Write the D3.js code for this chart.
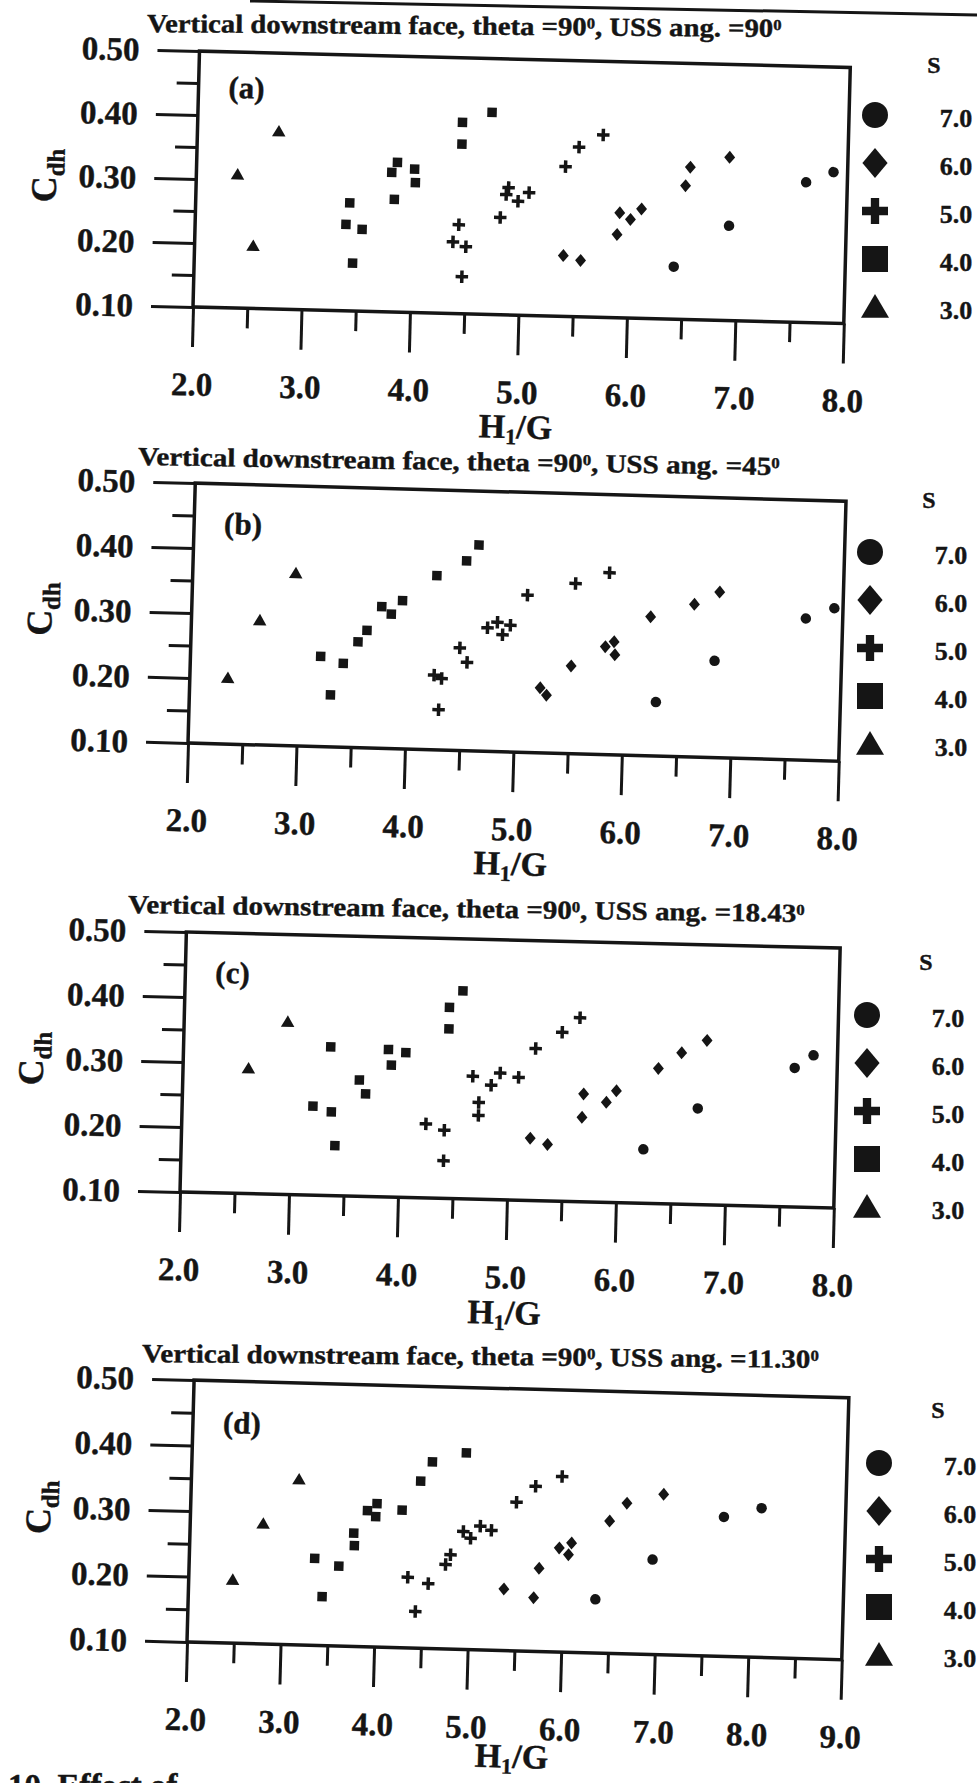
<!DOCTYPE html>
<html>
<head>
<meta charset="utf-8">
<script src="https://cdn.jsdelivr.net/npm/d3@7/dist/d3.min.js"></script>
<style>
  body { margin: 0; background: #fff; }
  svg text { font-family: "Liberation Serif", "Times New Roman", serif; font-weight: bold; fill: #151515; stroke: #151515; stroke-width: 0.4px; }
</style>
</head>
<body>
<div id="figure"></div>
<script>
// S values, legend order top to bottom
const sValues = ["7.0", "6.0", "5.0", "4.0", "3.0"];
const panelTags = ["(a)", "(b)", "(c)", "(d)"];
const ussAngles = ["90", "45", "18.43", "11.30"];

const yTicks = [0.10, 0.20, 0.30, 0.40, 0.50];
const yMinor = [0.15, 0.25, 0.35, 0.45];
const xTicks8 = [2, 3, 4, 5, 6, 7, 8];
const xMinor8 = [2.5, 3.5, 4.5, 5.5, 6.5, 7.5];
const xTicks9 = [2, 3, 4, 5, 6, 7, 8, 9];
const xMinor9 = [2.5, 3.5, 4.5, 5.5, 6.5, 7.5, 8.5];

// (a) USS ang. = 90
const a7 = [[6.42,0.182],[6.92,0.248],[7.62,0.319],[7.87,0.336]];
const a6 = [[5.40,0.195],[5.56,0.188],[5.89,0.230],[5.91,0.264],[6.01,0.254],[6.11,0.271],[6.51,0.309],[6.55,0.338],[6.91,0.355]];
const a5 = [[4.43,0.239],[4.38,0.212],[4.50,0.205],[4.47,0.158],[4.81,0.252],[4.88,0.299],[4.86,0.288],[4.97,0.278],[5.07,0.292],[5.40,0.334],[5.52,0.365],[5.74,0.385]];
const a4 = [[3.42,0.269],[3.39,0.235],[3.54,0.228],[3.46,0.175],[3.80,0.318],[3.85,0.334],[3.83,0.276],[4.01,0.324],[4.02,0.303],[4.44,0.399],[4.44,0.365],[4.71,0.416]];
const a3 = [[2.38,0.309],[2.75,0.378],[2.54,0.198]];

// (b) USS ang. = 45
const b7 = [[6.30,0.183],[6.83,0.249],[7.66,0.318],[7.92,0.335]];
const b6 = [[5.23,0.200],[5.29,0.189],[5.51,0.235],[5.82,0.266],[5.90,0.274],[5.91,0.254],[6.23,0.314],[6.63,0.335],[6.86,0.355]];
const b5 = [[4.25,0.215],[4.32,0.210],[4.48,0.258],[4.55,0.236],[4.30,0.162],[4.73,0.290],[4.82,0.299],[4.87,0.280],[4.94,0.295],[5.09,0.342],[5.53,0.362],[5.84,0.380]];
const b4 = [[3.20,0.239],[3.30,0.180],[3.41,0.229],[3.54,0.263],[3.62,0.281],[3.75,0.318],[3.84,0.307],[3.94,0.328],[4.25,0.368],[4.52,0.392],[4.63,0.417]];
const b3 = [[2.35,0.202],[2.63,0.292],[2.95,0.366]];

// (c) USS ang. = 18.43
const c7 = [[6.24,0.183],[6.73,0.248],[7.61,0.314],[7.78,0.334]];
const c6 = [[5.20,0.196],[5.36,0.187],[5.67,0.230],[5.68,0.266],[5.89,0.254],[5.98,0.272],[6.36,0.308],[6.57,0.333],[6.80,0.353]];
const c5 = [[4.24,0.214],[4.41,0.205],[4.41,0.158],[4.66,0.289],[4.72,0.249],[4.72,0.229],[4.83,0.276],[4.91,0.295],[5.08,0.289],[5.23,0.334],[5.47,0.360],[5.63,0.383]];
const c4 = [[3.20,0.237],[3.35,0.329],[3.37,0.229],[3.41,0.177],[3.62,0.279],[3.68,0.258],[3.88,0.327],[3.91,0.303],[4.04,0.323],[4.43,0.394],[4.43,0.361],[4.55,0.420]];
const c3 = [[2.60,0.293],[2.95,0.366]];

// (d) USS ang. = 11.30
const d7 = [[6.35,0.182],[6.95,0.245],[7.70,0.313],[8.10,0.328]];
const d6 = [[5.37,0.194],[5.69,0.182],[5.74,0.227],[5.95,0.259],[6.05,0.249],[6.08,0.267],[6.48,0.302],[6.66,0.330],[7.05,0.345]];
const d5 = [[4.34,0.208],[4.56,0.199],[4.43,0.156],[4.74,0.229],[4.79,0.244],[4.92,0.280],[5.00,0.270],[5.10,0.289],[5.22,0.283],[5.48,0.327],[5.68,0.352],[5.96,0.368]];
const d4 = [[3.34,0.233],[3.43,0.175],[3.60,0.222],[3.75,0.273],[3.76,0.254],[3.89,0.308],[3.99,0.319],[3.98,0.299],[4.26,0.310],[4.45,0.355],[4.57,0.385],[4.93,0.400]];
const d3pts = [[2.47,0.197],[2.78,0.284],[3.15,0.353]];

const panels = [
  { tag: panelTags[0], ang: ussAngles[0], xTicks: xTicks8, xMinor: xMinor8, series: [a7, a6, a5, a4, a3] },
  { tag: panelTags[1], ang: ussAngles[1], xTicks: xTicks8, xMinor: xMinor8, series: [b7, b6, b5, b4, b3] },
  { tag: panelTags[2], ang: ussAngles[2], xTicks: xTicks8, xMinor: xMinor8, series: [c7, c6, c5, c4, c3] },
  { tag: panelTags[3], ang: ussAngles[3], xTicks: xTicks9, xMinor: xMinor9, series: [d7, d6, d5, d4, d3pts] }
];

// where each (scanned, slightly turned) panel sits on the page
const frames = [
  { ox: 193, oy: 307,  rot: 1.45, w: 651, h: 256, tx: 147, ty: 32,   tw: 635, trot: 0.45, lx: 875, ly: 115,  sy: 65,   xly: 123 },
  { ox: 188, oy: 743,  rot: 1.6,  w: 651, h: 260, tx: 138, ty: 465,  tw: 642, trot: 0.9,  lx: 870, ly: 552,  sy: 500,  xly: 123 },
  { ox: 180, oy: 1192, rot: 1.4,  w: 654, h: 260, tx: 128, ty: 913,  tw: 677, trot: 0.76, lx: 867, ly: 1015, sy: 962,  xly: 124 },
  { ox: 187, oy: 1642, rot: 1.55, w: 655, h: 262, tx: 142, ty: 1362, tw: 677, trot: 0.5,  lx: 879, ly: 1463, sy: 1410, xly: 117 }
];

// marker shapes, size = span in px
const circleT = { draw(ctx, s) { ctx.moveTo(s / 2, 0); ctx.arc(0, 0, s / 2, 0, 2 * Math.PI); } };
const diamondT = { draw(ctx, s) { var h = s / 2, w = s * 0.42; ctx.moveTo(0, -h); ctx.lineTo(w, 0); ctx.lineTo(0, h); ctx.lineTo(-w, 0); ctx.closePath(); } };
const squareT = { draw(ctx, s) { ctx.rect(-s / 2, -s / 2, s, s); } };
const triangleT = { draw(ctx, s) { var h = s * 0.85; ctx.moveTo(0, -h * 0.55); ctx.lineTo(s / 2, h * 0.45); ctx.lineTo(-s / 2, h * 0.45); ctx.closePath(); } };
function plusT(k) {
  return { draw(ctx, s) {
    var r = s / 2, a = s * k / 2;
    ctx.moveTo(-a, -r); ctx.lineTo(a, -r); ctx.lineTo(a, -a); ctx.lineTo(r, -a); ctx.lineTo(r, a); ctx.lineTo(a, a);
    ctx.lineTo(a, r); ctx.lineTo(-a, r); ctx.lineTo(-a, a); ctx.lineTo(-r, a); ctx.lineTo(-r, -a); ctx.lineTo(-a, -a); ctx.closePath();
  } };
}
const shapes = [
  { plotType: circleT,   plot: 10.5, legType: circleT,   leg: 26 },
  { plotType: diamondT,  plot: 13,   legType: diamondT,  leg: 30 },
  { plotType: plusT(0.28), plot: 12.5, legType: plusT(0.32), leg: 26 },
  { plotType: squareT,   plot: 9.5,  legType: squareT,   leg: 26 },
  { plotType: triangleT, plot: 13.5, legType: triangleT, leg: 28 }
];
const ink = "#151515";

var svg = d3.select("#figure").append("svg")
    .attr("width", 977)
    .attr("height", 1783);

// scan edge at the top of the page
svg.append("line")
    .attr("x1", 250).attr("y1", 1).attr("x2", 977).attr("y2", 15)
    .attr("stroke", ink).attr("stroke-width", 3);

panels.forEach(function(p, i) {
  var f = frames[i];
  var x = d3.scaleLinear().domain([2, p.xTicks[p.xTicks.length - 1]]).range([0, f.w]);
  var y = d3.scaleLinear().domain([0.1, 0.5]).range([0, -f.h]);

  // title, stretched to the printed width
  var title = svg.append("text").attr("font-size", 26);
  title.append("tspan").text("Vertical downstream face, theta =90");
  title.append("tspan").attr("font-size", 15).attr("dy", -7).text("0");
  title.append("tspan").attr("dy", 7).text(", USS ang. =" + p.ang);
  title.append("tspan").attr("font-size", 15).attr("dy", -7).text("0");
  var len = title.node().getComputedTextLength();
  title.attr("transform", "translate(" + f.tx + "," + f.ty + ") rotate(" + f.trot + ") scale(" + (f.tw / len) + ",1)");

  var g = svg.append("g")
      .attr("transform", "translate(" + f.ox + "," + f.oy + ") rotate(" + f.rot + ")");

  g.append("g").call(d3.axisLeft(y).tickValues(yMinor).tickSize(22).tickFormat(""));
  g.append("g").call(d3.axisLeft(y).tickValues(yTicks).tickSize(42).tickPadding(18).tickFormat(d3.format(".2f")));
  g.append("g").call(d3.axisBottom(x).tickValues(p.xMinor).tickSize(20).tickFormat(""));
  g.append("g").call(d3.axisBottom(x).tickValues(p.xTicks).tickSize(40).tickPadding(25).tickFormat(d3.format(".1f")));
  g.selectAll(".domain").remove();
  g.selectAll(".tick line").attr("stroke", ink).attr("stroke-width", 3);
  g.selectAll(".tick text").style("font-size", "33px");

  g.append("rect")
      .attr("x", 0).attr("y", -f.h)
      .attr("width", f.w).attr("height", f.h)
      .attr("fill", "none").attr("stroke", ink).attr("stroke-width", 3.5);

  // axis titles
  var yl = g.append("text")
      .attr("transform", "translate(-140," + y(0.3) + ") rotate(-90)")
      .attr("text-anchor", "middle");
  yl.append("tspan").attr("font-size", 36).text("C");
  yl.append("tspan").attr("font-size", 25).attr("dy", 8).text("dh");

  var xl = g.append("text")
      .attr("x", f.w / 2).attr("y", f.xly)
      .attr("text-anchor", "middle")
      .attr("font-size", 34);
  xl.append("tspan").text("H");
  xl.append("tspan").attr("font-size", 22).attr("dy", 6).text("1");
  xl.append("tspan").attr("dy", -6).text("/G");

  g.append("text").attr("x", 30).attr("y", -210).attr("font-size", 31).text(p.tag);

  // points
  p.series.forEach(function(pts, k) {
    g.selectAll(null)
      .data(pts)
      .enter()
      .append("path")
        .attr("transform", function(d) { return "translate(" + x(d[0]) + "," + y(d[1]) + ")"; })
        .attr("d", d3.symbol().type(shapes[k].plotType).size(shapes[k].plot))
        .attr("fill", ink);
  });

  // legend
  var lg = svg.append("g");
  lg.append("text")
      .attr("x", f.lx + 59).attr("y", f.sy + 8)
      .attr("text-anchor", "middle").attr("font-size", 24)
      .text("S");
  lg.selectAll("path")
    .data(sValues)
    .enter()
    .append("path")
      .attr("transform", function(d, k) { return "translate(" + f.lx + "," + (f.ly + k * 48) + ")"; })
      .attr("d", function(d, k) { return d3.symbol().type(shapes[k].legType).size(shapes[k].leg)(); })
      .attr("fill", ink);
  lg.selectAll("text.lab")
    .data(sValues)
    .enter()
    .append("text")
      .attr("class", "lab")
      .attr("x", f.lx + 81)
      .attr("y", function(d, k) { return f.ly + k * 48 + 3; })
      .attr("dy", "0.35em")
      .attr("text-anchor", "middle")
      .attr("font-size", 26)
      .text(function(d) { return d; });
});

// caption cut off by the bottom edge
svg.append("text").attr("x", 8).attr("y", 1797).attr("font-size", 33).text("10. Effect of");
</script>
</body>
</html>
